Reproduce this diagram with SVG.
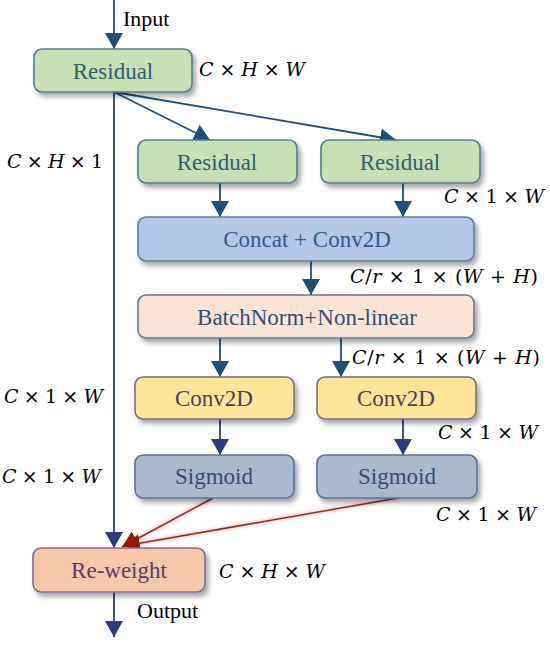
<svg xmlns="http://www.w3.org/2000/svg" width="550" height="645" viewBox="0 0 550 645">
<defs>
<filter id="sh" x="-10%" y="-20%" width="130%" height="160%">
<feDropShadow dx="3" dy="4" stdDeviation="2.5" flood-color="#000" flood-opacity="0.35"/>
</filter>
<filter id="glow" x="-20%" y="-50%" width="140%" height="200%">
<feGaussianBlur stdDeviation="1.5"/>
</filter>
<marker id="ah" markerUnits="userSpaceOnUse" markerWidth="16" markerHeight="18" refX="16" refY="9" orient="auto">
<path d="M0,0 L16,9 L0,18 z" fill="#1f4e79"/>
</marker>
<marker id="ahn" markerUnits="userSpaceOnUse" markerWidth="16" markerHeight="18" refX="16" refY="9" orient="auto">
<path d="M0,0 L16,9 L0,18 z" fill="#2e3a7e"/>
</marker>
<marker id="ahr" markerUnits="userSpaceOnUse" markerWidth="16" markerHeight="18" refX="16" refY="9" orient="auto">
<path d="M0,0 L16,9 L0,18 z" fill="#8e1a06"/>
</marker>
</defs>
<style>
.box{stroke-width:1.6;filter:url(#sh)}
.t{font-family:"Liberation Serif","Times New Roman",serif;font-size:23px;text-anchor:middle}
.plain{font-family:"Liberation Serif","Times New Roman",serif;font-size:22px;fill:#000}
.m{font-family:"DejaVu Serif",serif;font-size:19px;fill:#000}
.i{font-style:italic}
.c{fill:none;stroke:#1f4e79;stroke-width:1.8;marker-end:url(#ah)}
.cn{fill:none;stroke:#2e3a7e;stroke-width:1.8;marker-end:url(#ahn)}
.cr{fill:none;stroke:#7b3a17;stroke-width:1.5;marker-end:url(#ahr)}
.gl{fill:none;stroke:#ff9fb8;stroke-width:4;opacity:0.6;filter:url(#glow)}
.green{fill:#c8e0b5;stroke:#4f7f8f}
.blue{fill:#b4c7e7;stroke:#5a7db0}
.peach{fill:#fbe4d6;stroke:#627a95}
.yellow{fill:#fde699;stroke:#7e6a8c}
.gray{fill:#abb9cc;stroke:#5a6fa0}
.rw{fill:#f4c8a8;stroke:#8a6a9c}
</style>

<g id="connectors">
<path class="c" d="M114,0 L114,49"/>
<path class="c" d="M114,92 L210,140"/>
<path class="c" d="M114,92 L396,140"/>
<path class="cn" d="M114,92 L114,548"/>
<path class="c" d="M220,183 L220,217"/>
<path class="c" d="M403,183 L403,217"/>
<path class="c" d="M311,261 L311,295"/>
<path class="c" d="M220,338 L220,377"/>
<path class="c" d="M341,338 L341,377"/>
<path class="cn" d="M220,419 L220,455"/>
<path class="cn" d="M403,419 L403,455"/>
<path class="gl" d="M213,498 L124,546"/>
<path class="gl" d="M398,498 L124,546"/>
<path class="cr" d="M213,498 L122,547"/>
<path class="cr" d="M398,498 L124,546"/>
<path class="cn" d="M114,592 L114,637"/>
</g>

<g id="residual-top">
<rect class="box green" x="34" y="49" width="158" height="43" rx="8"/>
<text class="t" x="113" y="79" fill="#2d5f6e">Residual</text>
</g>
<g id="residual-left">
<rect class="box green" x="138" y="140" width="159" height="43" rx="8"/>
<text class="t" x="217" y="170" fill="#2d5f6e">Residual</text>
</g>
<g id="residual-right">
<rect class="box green" x="321" y="140" width="159" height="43" rx="8"/>
<text class="t" x="400" y="170" fill="#2d5f6e">Residual</text>
</g>
<g id="concat">
<rect class="box blue" x="138" y="217" width="336" height="44" rx="8"/>
<text class="t" x="307" y="247" fill="#2f5a8f">Concat + Conv2D</text>
</g>
<g id="batchnorm">
<rect class="box peach" x="138" y="295" width="336" height="43" rx="8"/>
<text class="t" x="307" y="325" fill="#34506e">BatchNorm+Non-linear</text>
</g>
<g id="conv-left">
<rect class="box yellow" x="135" y="377" width="159" height="42" rx="8"/>
<text class="t" x="214" y="406" fill="#4a3d62">Conv2D</text>
</g>
<g id="conv-right">
<rect class="box yellow" x="317" y="377" width="159" height="42" rx="8"/>
<text class="t" x="396" y="406" fill="#4a3d62">Conv2D</text>
</g>
<g id="sigmoid-left">
<rect class="box gray" x="135" y="455" width="159" height="43" rx="8"/>
<text class="t" x="214" y="484" fill="#2f4d7e">Sigmoid</text>
</g>
<g id="sigmoid-right">
<rect class="box gray" x="317" y="455" width="160" height="43" rx="8"/>
<text class="t" x="397" y="484" fill="#2f4d7e">Sigmoid</text>
</g>
<g id="reweight">
<rect class="box rw" x="33" y="548" width="172" height="44" rx="8"/>
<text class="t" x="119" y="578" fill="#5a3a6e">Re-weight</text>
</g>

<g id="labels">
<text class="plain" x="123" y="26">Input</text>
<text class="plain" x="137" y="618">Output</text>
<text class="m" x="199" y="76" textLength="106" lengthAdjust="spacing"><tspan class="i">C</tspan> × <tspan class="i">H</tspan> × <tspan class="i">W</tspan></text>
<text class="m" x="7" y="168" textLength="96" lengthAdjust="spacing"><tspan class="i">C</tspan> × <tspan class="i">H</tspan> × 1</text>
<text class="m" x="444" y="203" textLength="100" lengthAdjust="spacing"><tspan class="i">C</tspan> × 1 × <tspan class="i">W</tspan></text>
<text class="m" x="350" y="283" textLength="188" lengthAdjust="spacing"><tspan class="i">C</tspan>/<tspan class="i">r</tspan> × 1 × (<tspan class="i">W</tspan> + <tspan class="i">H</tspan>)</text>
<text class="m" x="352" y="364" textLength="188" lengthAdjust="spacing"><tspan class="i">C</tspan>/<tspan class="i">r</tspan> × 1 × (<tspan class="i">W</tspan> + <tspan class="i">H</tspan>)</text>
<text class="m" x="4" y="403" textLength="99" lengthAdjust="spacing"><tspan class="i">C</tspan> × 1 × <tspan class="i">W</tspan></text>
<text class="m" x="2" y="483" textLength="99" lengthAdjust="spacing"><tspan class="i">C</tspan> × 1 × <tspan class="i">W</tspan></text>
<text class="m" x="438" y="439" textLength="100" lengthAdjust="spacing"><tspan class="i">C</tspan> × 1 × <tspan class="i">W</tspan></text>
<text class="m" x="436" y="521" textLength="100" lengthAdjust="spacing"><tspan class="i">C</tspan> × 1 × <tspan class="i">W</tspan></text>
<text class="m" x="219" y="578" textLength="106" lengthAdjust="spacing"><tspan class="i">C</tspan> × <tspan class="i">H</tspan> × <tspan class="i">W</tspan></text>
</g>
</svg>
